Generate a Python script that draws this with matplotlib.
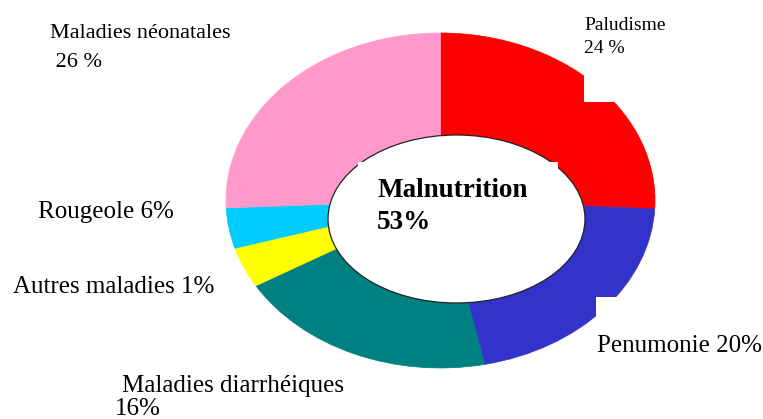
import matplotlib.pyplot as plt
from matplotlib.patches import Ellipse, Rectangle

# slice shares (clockwise from the top)
causes = ['Paludisme', 'Penumonie', 'Maladies diarrhéiques', 'Autres maladies', 'Rougeole', 'Maladies néonatales']
shares = [25.8, 20.9, 19.8, 3.9, 3.9, 25.7]
colors = ['#FF0000', '#3333CC', '#008080', '#FFFF00', '#00CCFF', '#FF99CC']

# label texts as printed on the chart (one entry per line)
label_lines = [['Paludisme', '24 %'], ['Penumonie 20%'], ['Maladies diarrhéiques', '16%'],
               ['Autres maladies 1%'], ['Rougeole 6%'], ['Maladies néonatales', ' 26 %']]
center_lines = ['Malnutrition', '53%']

W, H = 763, 419
fig = plt.figure(figsize=(W / 100, H / 100), dpi=100)

# outer ellipse spans x 226..655, y 33..368 (pixels from top)
L, R, T, B = 226, 655, 33, 368
ax = fig.add_axes([L / W, 1 - B / H, (R - L) / W, (B - T) / H])
wedges, _ = ax.pie(shares, colors=colors, startangle=90, counterclock=False, radius=1)
for w, c in zip(wedges, colors):
    w.set_edgecolor(c)
    w.set_linewidth(0.5)
ax.set_aspect('auto')
ax.set_xlim(-1, 1)
ax.set_ylim(-1, 1)
ax.axis('off')

cx, cy = (L + R) / 2, (T + B) / 2
sx, sy = (R - L) / 2, (B - T) / 2


def to_data(px, py):
    return (px - cx) / sx, (cy - py) / sy


# white hole, a bit off-centre like the original
hx, hy = to_data(456.5, 219)
ax.add_patch(Ellipse((hx, hy), 257 / sx, 168 / sy, facecolor='white',
                     edgecolor='#222222', linewidth=0.9, zorder=5))

# white boxes that cut into the ring / hole outline
for (x0, y0, x1, y1) in [(584, 55, 614, 102), (596, 297, 620, 330), (358, 162, 558, 240)]:
    dx0, dy0 = to_data(x0, y1)
    ax.add_patch(Rectangle((dx0, dy0), (x1 - x0) / sx, (y1 - y0) / sy,
                           facecolor='white', edgecolor='none', zorder=6, clip_on=False))

serif = 'Liberation Serif'


def put(lines, xs, baselines, size, **kw):
    for s, px, py in zip(lines, xs, baselines):
        fig.text(px / W, 1 - py / H, s, fontsize=size, family=serif,
                 va='baseline', ha='left', **kw)


put(label_lines[0], [584, 584], [30, 53], 14)
put(label_lines[1], [597], [352], 18)
put(label_lines[2], [122, 115], [392, 415], 18)
put(label_lines[3], [13], [293], 18)
put(label_lines[4], [38], [218], 18)
put(label_lines[5], [50, 50], [38, 67], 16)
put(center_lines, [377, 377], [197, 229], 19.5, fontweight='bold')

fig.savefig('out.png', dpi=100)
